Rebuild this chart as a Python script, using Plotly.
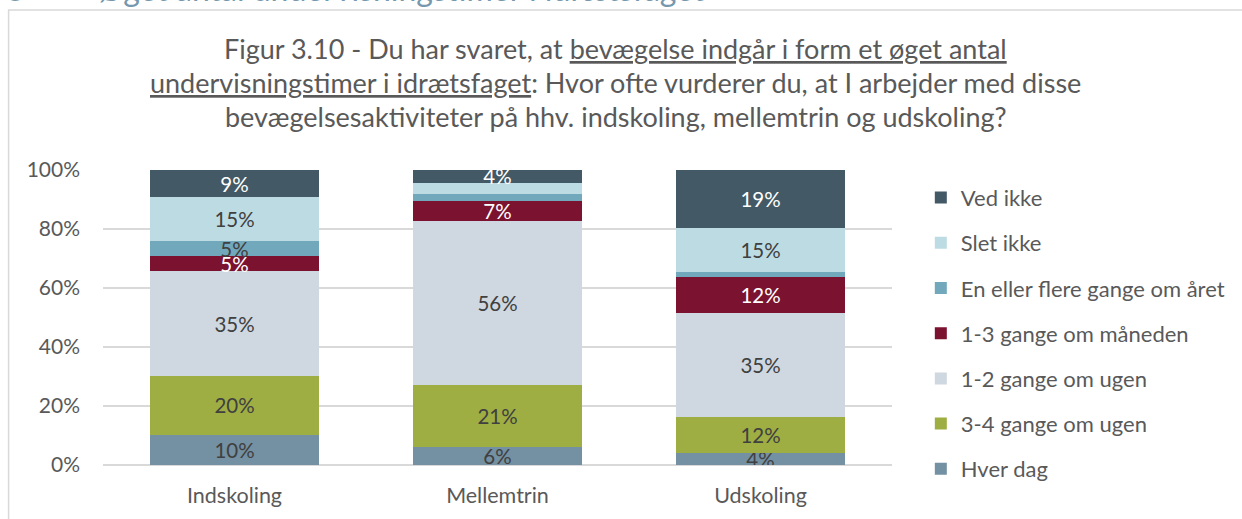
import plotly.graph_objects as go

CATEGORIES = ["Indskoling", "Mellemtrin", "Udskoling"]

# stacked from bottom to top
SERIES = ["Hver dag", "3-4 gange om ugen", "1-2 gange om ugen", "1-3 gange om måneden",
          "En eller flere gange om året", "Slet ikke", "Ved ikke"]

HVER_DAG = [10.2, 6.0, 4.0]
TRE_FIRE_UGE = [20.0, 21.1, 12.2]
EN_TO_UGE = [35.4, 55.7, 35.4]
EN_TRE_MAANED = [5.1, 6.8, 12.0]
AARET = [5.1, 2.1, 1.8]
SLET_IKKE = [15.0, 4.0, 15.1]
VED_IKKE = [9.2, 4.3, 19.4]

VALUES = [HVER_DAG, TRE_FIRE_UGE, EN_TO_UGE, EN_TRE_MAANED, AARET, SLET_IKKE, VED_IKKE]

# labels that are not shown in the original chart
HIDDEN = {("En eller flere gange om året", "Mellemtrin"),
          ("Slet ikke", "Mellemtrin"),
          ("En eller flere gange om året", "Udskoling")}

COLORS = ['#7490a3', '#9fae43', '#cfd8e0', '#7b1230', '#72a8bb', '#bddbe3', '#435966']
TEXT_COLORS = ['#404040', '#404040', '#404040', '#ffffff', '#404040', '#404040', '#ffffff']

FONT = 'Lato, sans-serif'
GREY = '#595959'

W, H = 1242, 519
PL, PR, PT, PB = 103, 897, 170, 465  # plot area in pixels


def X(px):
    return (px - PL) / (PR - PL)


def Y(py):
    return (PB - py) / (PB - PT)


fig = go.Figure()
legends = {}
for i, (name, vals, col, tcol) in enumerate(zip(SERIES, VALUES, COLORS, TEXT_COLORS)):
    text = ['' if (name, c) in HIDDEN else f'{round(v)}%' for c, v in zip(CATEGORIES, vals)]
    # one small legend per series so the rows can be spaced like the original
    key = 'legend' if i == 0 else f'legend{i + 1}'
    row_y = 469 - 45.2 * i
    legends[key] = dict(x=X(926), y=Y(row_y), xanchor='left', yanchor='middle',
                        font=dict(family=FONT, size=22, color=GREY),
                        bgcolor='rgba(0,0,0,0)')
    fig.add_trace(go.Bar(
        x=CATEGORIES,
        y=vals,
        name=name,
        legend=key,
        marker=dict(color=col, line=dict(width=0)),
        text=text,
        texttemplate='%{text}',
        textposition='inside',
        insidetextanchor='middle',
        textangle=0,
        constraintext='none',
        insidetextfont=dict(family=FONT, size=20.5, color=tcol),
        hovertemplate='%{x}<br>' + name + ': %{y:.0f}%<extra></extra>'
    ))

# section heading above the chart box, mostly cut off by the top edge
annotations = [
    dict(text='3', x=X(3), y=Y(10), xanchor='left', yanchor='bottom'),
    dict(text='Øget antal undervisningstimer i idrætsfaget', x=X(96), y=Y(10),
         xanchor='left', yanchor='bottom'),
]
for a in annotations:
    a.update(xref='paper', yref='paper', showarrow=False,
             font=dict(family=FONT, size=32, color='#7698ae'))

title_lines = [
    'Figur 3.10 - Du har svaret, at <u>bevægelse indgår i form et øget antal</u>',
    '<u>undervisningstimer i idrætsfaget</u>: Hvor ofte vurderer du, at I arbejder med disse',
    'bevægelsesaktiviteter på hhv. indskoling, mellemtrin og udskoling?',
]
for i, line in enumerate(title_lines):
    annotations.append(dict(
        text=line, x=X(619), y=Y(48 + 34 * i), xref='paper', yref='paper',
        xanchor='center', yanchor='middle', showarrow=False,
        font=dict(family=FONT, size=27, color=GREY)
    ))

fig.update_layout(
    width=W, height=H,
    margin=dict(l=PL, r=W - PR, t=PT, b=H - PB, pad=0),
    paper_bgcolor='white',
    plot_bgcolor='white',
    barmode='stack',
    bargap=0.36,
    font=dict(family=FONT, size=21, color=GREY),
    xaxis=dict(showgrid=False, showline=False, ticks='', ticklabelstandoff=15,
               tickfont=dict(size=21.5, color=GREY)),
    yaxis=dict(range=[0, 100], dtick=20, ticksuffix='%', gridcolor='#d9d9d9', gridwidth=1.5,
               zeroline=True, zerolinecolor='#d9d9d9', zerolinewidth=1.5,
               showline=False, ticklabelstandoff=22, tickfont=dict(size=21, color=GREY)),
    shapes=[dict(type='rect', xref='paper', yref='paper',
                 x0=X(8), x1=X(1262), y0=Y(540), y1=Y(10),
                 line=dict(color='#d9d9d9', width=1.5), layer='below')],
    annotations=annotations,
    showlegend=True,
    **legends,
)

# the page has a default body margin; remove it so the figure sits at the window's corner
fig.write_html("out.html", config={'displayModeBar': False},
               post_script="document.body.style.margin='0';")
